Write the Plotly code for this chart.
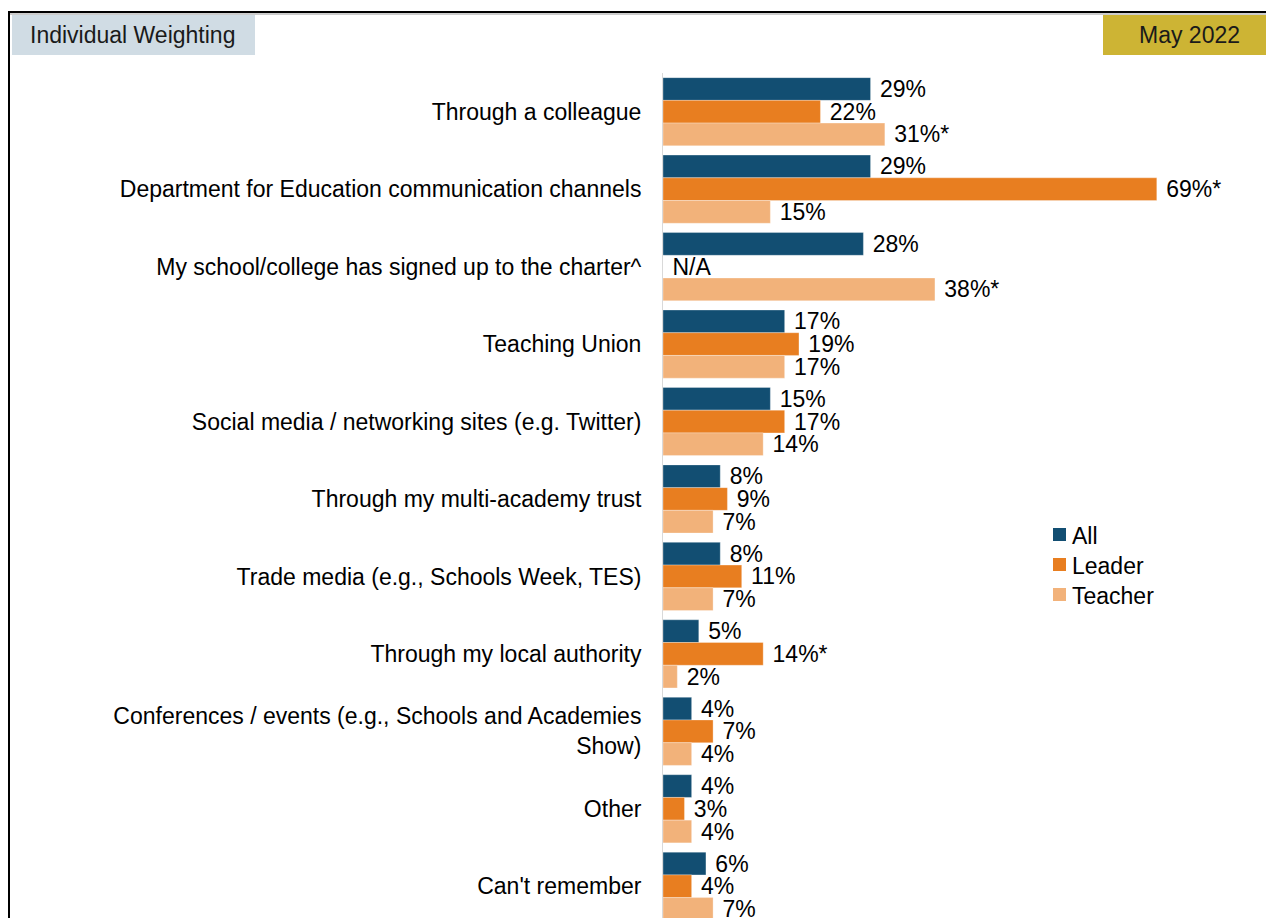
import plotly.graph_objects as go

# Survey responses: where respondents heard about the charter (% of each group)
categories = [
    "Through a colleague",
    "Department for Education communication channels",
    "My school/college has signed up to the charter^",
    "Teaching Union",
    "Social media / networking sites (e.g. Twitter)",
    "Through my multi-academy trust",
    "Trade media (e.g., Schools Week, TES)",
    "Through my local authority",
    "Conferences / events (e.g., Schools and Academies<br>Show)",
    "Other",
    "Can't remember",
]

all_values = [29, 29, 28, 17, 15, 8, 8, 5, 4, 4, 6]
leader_values = [22, 69, None, 19, 17, 9, 11, 14, 7, 3, 4]
teacher_values = [31, 15, 38, 17, 14, 7, 7, 2, 4, 4, 7]

# Significance flags shown as an asterisk after the value
all_sig = [False] * 11
leader_sig = [False, True, False, False, False, False, False, True, False, False, False]
teacher_sig = [True, False, True, False, False, False, False, False, False, False, False]

series = [
    ("All", all_values, all_sig, "#124E72"),
    ("Leader", leader_values, leader_sig, "#E87E20"),
    ("Teacher", teacher_values, teacher_sig, "#F2B27A"),
]

FONT = "Liberation Sans, Arial, sans-serif"
FS = 23

fig = go.Figure()
for name, vals, sig, color in series:
    labels = []
    for v, s in zip(vals, sig):
        if v is None:
            labels.append(" N/A")
        else:
            labels.append(f" {v}%" + ("*" if s else ""))
    fig.add_trace(go.Bar(
        name=name,
        y=categories,
        x=[0 if v is None else v for v in vals],
        orientation="h",
        marker=dict(color=color, line=dict(color="rgba(255,255,255,0.6)", width=0.5)),
        text=labels,
        textposition="outside",
        textfont=dict(family=FONT, size=FS, color="#000000"),
        constraintext="none",
        cliponaxis=False,
        hoverinfo="skip",
        showlegend=False,
    ))

W, H = 1266, 918
L, T = 663, 73
plot_w = W - L
plot_h = H - T


def px_x(p):
    return (p - L) / plot_w


def px_y(p):
    return (H - p) / plot_h


fig.update_layout(
    width=W,
    height=H,
    margin=dict(l=L, r=0, t=T, b=0, autoexpand=False),
    barmode="group",
    bargap=0.12,
    bargroupgap=0,
    plot_bgcolor="white",
    paper_bgcolor="white",
    font=dict(family=FONT, size=FS, color="#000000"),
    showlegend=False,
    xaxis=dict(
        range=[0, 84.26],
        showgrid=False, zeroline=False, showticklabels=False, showline=False,
        fixedrange=True,
    ),
    yaxis=dict(
        autorange=False,
        range=[10.41, -0.5],
        showgrid=False, zeroline=False,
        showline=True, linecolor="#D9D9D9", linewidth=1,
        ticks="", ticklabelstandoff=16,
        tickfont=dict(family=FONT, size=FS, color="#000000"),
        fixedrange=True,
    ),
)

shapes = [
    # header label boxes
    dict(type="rect", xref="paper", yref="paper",
         x0=px_x(12), x1=px_x(255), y0=px_y(55), y1=px_y(15),
         fillcolor="#D0DCE4", line=dict(width=0), layer="below"),
    dict(type="rect", xref="paper", yref="paper",
         x0=px_x(1103), x1=px_x(1266), y0=px_y(55), y1=px_y(15),
         fillcolor="#CDB434", line=dict(width=0), layer="below"),
    # outer frame (top and left edges)
    dict(type="line", xref="paper", yref="paper",
         x0=px_x(9), x1=px_x(1266), y0=px_y(12), y1=px_y(12),
         line=dict(color="#000000", width=2)),
    dict(type="line", xref="paper", yref="paper",
         x0=px_x(9), x1=px_x(1266), y0=px_y(14), y1=px_y(14),
         line=dict(color="#9A9A9A", width=1)),
    dict(type="line", xref="paper", yref="paper",
         x0=px_x(9), x1=px_x(9), y0=px_y(918), y1=px_y(11),
         line=dict(color="#000000", width=2)),
]

# Compact legend: colour swatch + series name
LEG_X, LEG_Y0, LEG_STEP, SW = 1053, 534.5, 30, 13
for i, (name, _, _, color) in enumerate(series):
    cy = LEG_Y0 + i * LEG_STEP
    shapes.append(dict(
        type="rect", xref="paper", yref="paper",
        x0=px_x(LEG_X), x1=px_x(LEG_X + SW),
        y0=px_y(cy + SW / 2), y1=px_y(cy - SW / 2),
        fillcolor=color, line=dict(width=0),
    ))
    fig.add_annotation(
        xref="paper", yref="paper", x=px_x(LEG_X + SW + 4), y=px_y(cy + 1),
        xanchor="left", yanchor="middle", showarrow=False,
        text=name, font=dict(family=FONT, size=FS, color="#000000"),
    )

fig.update_layout(shapes=shapes)

fig.add_annotation(
    xref="paper", yref="paper", x=px_x(28), y=px_y(35),
    xanchor="left", yanchor="middle", showarrow=False,
    text="Individual Weighting", font=dict(family=FONT, size=FS, color="#1A1A1A"),
)
fig.add_annotation(
    xref="paper", yref="paper", x=px_x(1189), y=px_y(35),
    xanchor="center", yanchor="middle", showarrow=False,
    text="May 2022", font=dict(family=FONT, size=FS, color="#1A1A1A"),
)

fig.write_html("out.html")
